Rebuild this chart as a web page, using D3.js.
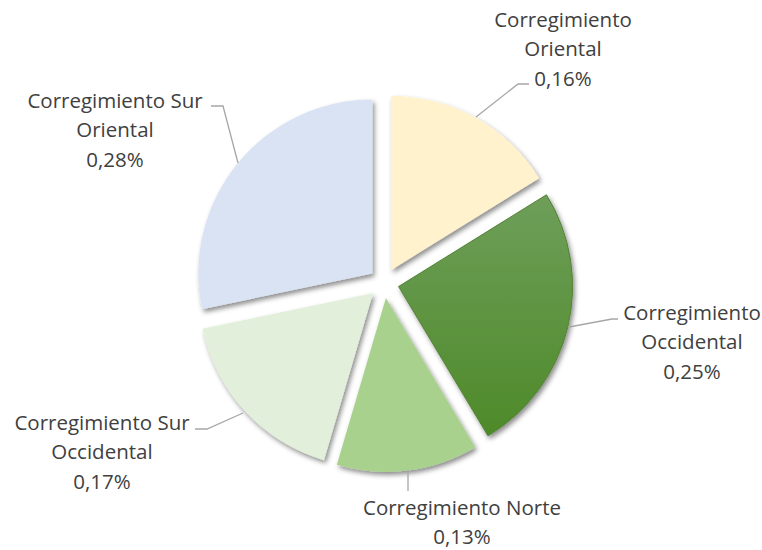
<!DOCTYPE html>
<html>
<head>
<meta charset="utf-8">
<script src="https://cdn.jsdelivr.net/npm/d3@7"></script>
<style>
  body { margin: 0; background: #fff; }
  text { font-family: "Open Sans", "Liberation Sans", sans-serif; fill: #404040; }
</style>
</head>
<body>
<div id="chart"></div>
<script>
const categories = ['Corregimiento Oriental', 'Corregimiento Occidental', 'Corregimiento Norte',
  'Corregimiento Sur Occidental', 'Corregimiento Sur Oriental']
const labelLines = [
  ['Corregimiento', 'Oriental'],
  ['Corregimiento', 'Occidental'],
  ['Corregimiento Norte'],
  ['Corregimiento Sur', 'Occidental'],
  ['Corregimiento Sur', 'Oriental']
]
const values = [0.16, 0.25, 0.13, 0.17, 0.28]
const colors = ['#FFF2CC', 'url(#greenGrad)', '#A9D18E', '#E2EFDA', '#DAE3F3']

const width = 762, height = 550
const cx = 384, cy = 283, radius = 174, explode = 15

// label layout (text centre x, first baseline y) and leader line points
const labelLayout = [
  { x: 563, y: 27, leader: [[476, 117], [518, 84], [529, 84]] },
  { x: 692, y: 320, leader: [[569, 327], [612, 319], [618, 319]] },
  { x: 462, y: 515, leader: [[408, 470], [408, 491]] },
  { x: 102, y: 430, leader: [[243, 413], [207, 429], [195, 429]] },
  { x: 115, y: 108, leader: [[238, 163], [223, 106], [211, 106]] }
]

const svg = d3.select('#chart')
              .append('svg')
              .attr('width', width)
              .attr('height', height)

const defs = svg.append('defs')
const grad = defs.append('linearGradient')
                 .attr('id', 'greenGrad')
                 .attr('x1', 0).attr('y1', 0)
                 .attr('x2', 0).attr('y2', 1)
grad.append('stop').attr('offset', '0%').attr('stop-color', '#6E9E59')
grad.append('stop').attr('offset', '100%').attr('stop-color', '#4E8A29')

const shadow = defs.append('filter')
                   .attr('id', 'shadow')
                   .attr('x', '-20%').attr('y', '-20%')
                   .attr('width', '140%').attr('height', '140%')
shadow.append('feDropShadow')
      .attr('dx', 2).attr('dy', 3)
      .attr('stdDeviation', 2.5)
      .attr('flood-color', '#000')
      .attr('flood-opacity', 0.45)

const pie = d3.pie().sort(null).value((d) => d)
const arc = d3.arc().innerRadius(0).outerRadius(radius)

const slices = pie(values)

const g = svg.append('g')
             .attr('transform', 'translate(' + cx + ',' + cy + ')')

g.selectAll('path')
 .data(slices)
 .enter()
 .append('path')
 .attr('d', arc)
 .attr('transform', (d) => {
   const a = (d.startAngle + d.endAngle) / 2
   return 'translate(' + (Math.sin(a) * explode) + ',' + (-Math.cos(a) * explode) + ')'
 })
 .attr('fill', (d, i) => colors[i])
 .attr('stroke', (d, i) => i === 1 ? '#548235' : 'none')
 .attr('stroke-width', 1)
 .attr('filter', 'url(#shadow)')

// leader lines
svg.selectAll('.leader')
   .data(labelLayout)
   .enter()
   .append('polyline')
   .attr('class', 'leader')
   .attr('points', (d) => d.leader.map((p) => p.join(',')).join(' '))
   .attr('fill', 'none')
   .attr('stroke', '#A6A6A6')
   .attr('stroke-width', 1.3)

const fmt = (v) => v.toFixed(2).replace('.', ',') + '%'

labelLayout.forEach((l, i) => {
  const lines = labelLines[i].concat([fmt(values[i])])
  const t = svg.append('text')
               .attr('text-anchor', 'middle')
               .attr('font-size', '20.5px')
  lines.forEach((s, j) => {
    t.append('tspan')
     .attr('x', l.x)
     .attr('y', l.y + j * 29.3)
     .text(s)
  })
})
</script>
</body>
</html>
